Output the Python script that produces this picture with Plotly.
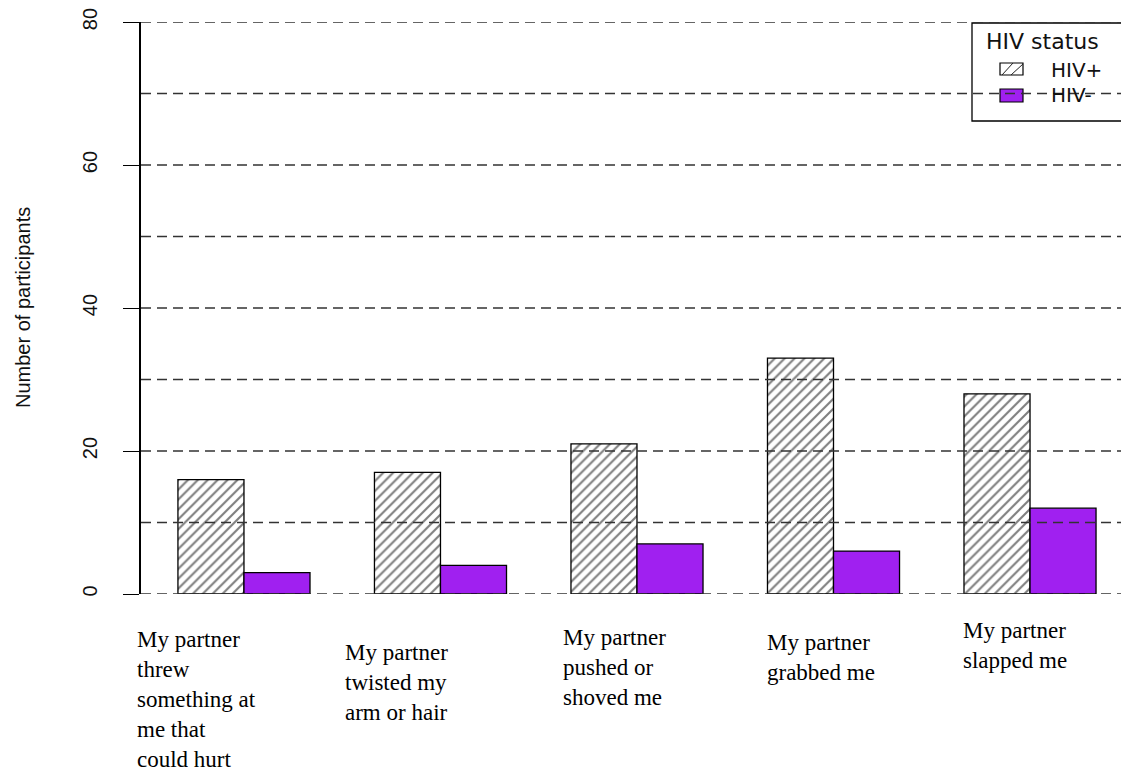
import plotly.graph_objects as go

categories = [
    "My partner<br>threw<br>something at<br>me that<br>could hurt",
    "My partner<br>twisted my<br>arm or hair",
    "My partner<br>pushed or<br>shoved me",
    "My partner<br>grabbed me",
    "My partner<br>slapped me",
]
hiv_pos = [16, 17, 21, 33, 28]
hiv_neg = [3, 4, 7, 6, 12]
series_names = ["HIV+", "HIV-"]
y_ticks = [0, 20, 40, 60, 80]
grid_levels = [0, 10, 20, 30, 40, 50, 60, 70, 80]
y_title = "Number of participants"
legend_title = "HIV status"

W, H = 1121, 774
ML, MR, MT, MB = 141, 0, 22, 180
PW, PH = W - ML - MR, H - MT - MB


def px_x(p):
    return (p - ML) / PW


def px_y(p):
    return (H - MB - p) / PH


PURPLE = "#A020F0"

fig = go.Figure()
fig.add_trace(go.Bar(
    x=categories, y=hiv_pos, name=series_names[0],
    marker=dict(color="white", line=dict(color="black", width=1.3),
                pattern=dict(shape="/", fgcolor="black", bgcolor="white",
                             size=7, solidity=0.3)),
    showlegend=False,
))
fig.add_trace(go.Bar(
    x=categories, y=hiv_neg, name=series_names[1],
    marker=dict(color=PURPLE, line=dict(color="black", width=1.3)),
    showlegend=False,
))

shapes = []
# legend box and swatches
shapes.append(dict(type="rect", xref="paper", yref="paper",
                   x0=px_x(972), x1=px_x(1145), y0=px_y(121), y1=px_y(23),
                   line=dict(color="black", width=1.3), fillcolor="rgba(0,0,0,0)", layer="above"))
shapes.append(dict(type="rect", xref="paper", yref="paper",
                   x0=px_x(1000), x1=px_x(1023), y0=px_y(75), y1=px_y(63),
                   line=dict(color="black", width=1.2), fillcolor="white", layer="above"))
shapes.append(dict(type="line", xref="paper", yref="paper",
                   x0=px_x(1002), x1=px_x(1013), y0=px_y(75), y1=px_y(63),
                   line=dict(color="#222", width=1), layer="above"))
shapes.append(dict(type="line", xref="paper", yref="paper",
                   x0=px_x(1011), x1=px_x(1023), y0=px_y(75), y1=px_y(64),
                   line=dict(color="#222", width=1), layer="above"))
shapes.append(dict(type="rect", xref="paper", yref="paper",
                   x0=px_x(1000), x1=px_x(1023), y0=px_y(102), y1=px_y(89),
                   line=dict(color="black", width=1.2), fillcolor=PURPLE, layer="above"))
# dashed horizontal reference lines drawn over bars
for g in grid_levels:
    shapes.append(dict(type="line", xref="paper", yref="y", x0=0, x1=1, y0=g, y1=g,
                       line=dict(color="#333", width=1.3, dash="10px,6px"), layer="above"))

annotations = []
label_pos = [(137, 646), (345, 659), (563, 644), (767, 649), (963, 637)]
for lab, (lx, base) in zip(categories, label_pos):
    annotations.append(dict(
        text=lab, xref="paper", yref="paper", x=px_x(lx - 2), y=px_y(base - 21.5),
        xanchor="left", yanchor="top", align="left", showarrow=False,
        font=dict(family="Liberation Serif", size=23, color="black"),
    ))
annotations.append(dict(
    text=y_title, xref="paper", yref="paper", x=px_x(23), y=0.5,
    xanchor="center", yanchor="middle", textangle=-90, showarrow=False,
    font=dict(family="Liberation Sans", size=20, color="#111"),
))
annotations.append(dict(
    text=legend_title, xref="paper", yref="paper", x=px_x(984), y=px_y(41.5),
    xanchor="left", yanchor="middle", showarrow=False,
    font=dict(family="DejaVu Sans", size=22, color="#111"),
))
for name, yc in zip(series_names, [70, 95]):
    annotations.append(dict(
        text=name, xref="paper", yref="paper", x=px_x(1050), y=px_y(yc),
        xanchor="left", yanchor="middle", showarrow=False, borderpad=0,
        font=dict(family="DejaVu Sans", size=20, color="#111"),
    ))

fig.update_layout(
    width=W, height=H,
    margin=dict(l=ML, r=MR, t=MT, b=MB, autoexpand=False),
    paper_bgcolor="white", plot_bgcolor="white",
    barmode="group", bargap=0.328, bargroupgap=0,
    shapes=shapes, annotations=annotations,
    showlegend=False,
    xaxis=dict(type="category", range=[-0.524, 4.463], showticklabels=False,
               showgrid=False, zeroline=False, showline=False, ticks=""),
    yaxis=dict(range=[0, 80], tickvals=y_ticks, tickangle=-90,
               showline=True, linecolor="black", linewidth=1.5,
               ticks="outside", ticklen=16, tickwidth=1.3, tickcolor="black",
               showgrid=False, zeroline=False, ticklabelstandoff=18,
               tickfont=dict(family="Liberation Sans", size=20, color="#111")),
)

fig.write_html("out.html", config={"displayModeBar": False},
               post_script="document.body.style.margin='0px';")
